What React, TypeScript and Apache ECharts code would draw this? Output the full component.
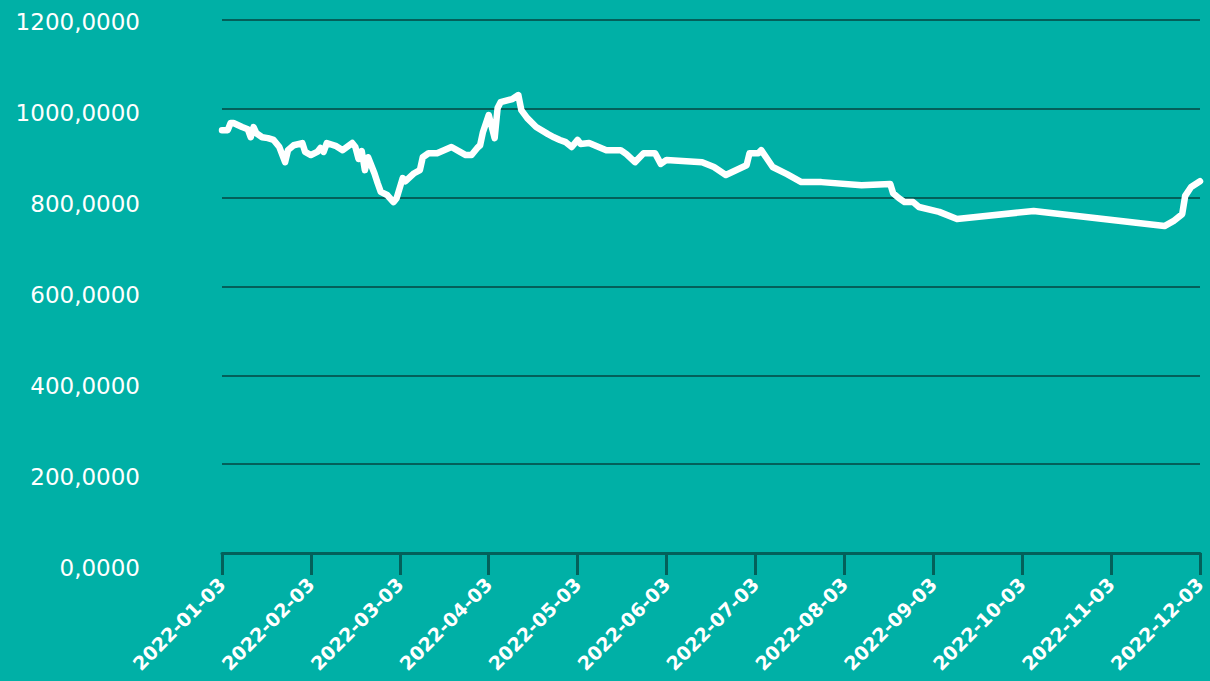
import React, { useEffect, useRef } from "react";
import * as echarts from "echarts";

const dates: string[] = [
  "2022-01-03", "2022-01-05", "2022-01-06", "2022-01-07", "2022-01-10", "2022-01-12", "2022-01-13", "2022-01-14",
  "2022-01-15", "2022-01-17", "2022-01-19", "2022-01-21", "2022-01-23", "2022-01-25", "2022-01-26", "2022-01-28",
  "2022-01-31", "2022-02-01", "2022-02-03", "2022-02-05", "2022-02-06", "2022-02-07", "2022-02-08", "2022-02-11",
  "2022-02-13", "2022-02-16", "2022-02-17", "2022-02-18", "2022-02-19", "2022-02-20", "2022-02-21", "2022-02-23",
  "2022-02-24", "2022-02-25", "2022-02-27", "2022-03-01", "2022-03-02", "2022-03-04", "2022-03-05", "2022-03-08",
  "2022-03-10", "2022-03-11", "2022-03-13", "2022-03-16", "2022-03-21", "2022-03-24", "2022-03-26", "2022-03-28",
  "2022-03-30", "2022-03-31", "2022-04-01", "2022-04-03", "2022-04-05", "2022-04-06", "2022-04-07", "2022-04-11",
  "2022-04-13", "2022-04-14", "2022-04-16", "2022-04-19", "2022-04-23", "2022-04-25", "2022-04-27", "2022-04-29",
  "2022-05-01", "2022-05-03", "2022-05-04", "2022-05-07", "2022-05-13", "2022-05-18", "2022-05-20", "2022-05-23",
  "2022-05-26", "2022-05-30", "2022-06-01", "2022-06-03", "2022-06-15", "2022-06-19", "2022-06-23", "2022-06-30",
  "2022-07-01", "2022-07-04", "2022-07-05", "2022-07-09", "2022-07-14", "2022-07-19", "2022-07-26", "2022-08-09",
  "2022-08-19", "2022-08-20", "2022-08-22", "2022-08-24", "2022-08-27", "2022-08-29", "2022-09-05", "2022-09-11",
  "2022-10-07", "2022-11-21", "2022-11-24", "2022-11-27", "2022-11-28", "2022-11-30", "2022-12-03",
];

const values: number[] = [
  952, 952, 968, 968, 959, 954, 936, 959, 945, 936, 934, 930, 914, 880, 907, 918,
  923, 903, 896, 903, 912, 903, 923, 916, 907, 923, 914, 887, 905, 862, 891, 855,
  833, 813, 806, 790, 799, 844, 837, 855, 862, 891, 900, 900, 914, 903, 896, 896,
  912, 918, 948, 986, 934, 1002, 1015, 1022, 1031, 997, 979, 959, 943, 936, 930, 925,
  914, 930, 921, 923, 907, 907, 898, 880, 900, 900, 876, 885, 880, 869, 851, 873,
  900, 900, 907, 869, 853, 835, 835, 828, 831, 810, 799, 790, 790, 779, 768, 752,
  770, 736, 747, 763, 804, 824, 837,
];

const tickLabels: string[] = [
  "2022-01-03", "2022-02-03", "2022-03-03", "2022-04-03", "2022-05-03", "2022-06-03",
  "2022-07-03", "2022-08-03", "2022-09-03", "2022-10-03", "2022-11-03", "2022-12-03",
];

const monthDays = [31, 28, 31, 30, 31, 30, 31, 31, 30, 31, 30, 31];

// position on an axis where each tick (3rd of each month) is one unit apart
function datePos(d: string): number {
  const [, m, day] = d.split("-").map(Number);
  let mi = m - 1;
  let dd = day - 3;
  if (dd < 0) {
    mi -= 1;
    dd += monthDays[mi];
  }
  return mi + dd / monthDays[mi];
}

const BG = "#00B0A6";
const DARK = "#03605A";

export default function App() {
  const ref = useRef<HTMLDivElement>(null);

  useEffect(() => {
    if (!ref.current) return;
    const chart = echarts.init(ref.current, undefined, { renderer: "svg" });
    const seriesData = dates.map((d, i) => [datePos(d), values[i]]);
    chart.setOption({
      animation: false,
      backgroundColor: BG,
      grid: [
        { left: 222, right: 10, top: 20, bottom: 128 },
        { left: 222, right: 10, top: 22, bottom: 113 },
      ],
      xAxis: [
        {
          type: "value",
          gridIndex: 0,
          min: 0,
          max: tickLabels.length - 1,
          interval: 1,
          splitLine: { show: false },
          axisLine: { show: true, lineStyle: { color: DARK, width: 3 } },
          axisTick: { show: true, length: 22, lineStyle: { color: DARK, width: 3 } },
          axisLabel: {
            rotate: 45,
            margin: 28,
            color: "#ffffff",
            fontWeight: "bold",
            fontSize: 19,
            fontFamily: "DejaVu Sans",
            formatter: (v: number) => tickLabels[Math.round(v)] ?? "",
          },
        },
        { type: "value", gridIndex: 1, show: false, min: 0, max: 1 },
      ],
      yAxis: [
        {
          type: "value",
          gridIndex: 0,
          min: 0,
          max: 1200,
          interval: 200,
          axisLabel: { show: false },
          axisLine: { show: false },
          axisTick: { show: false },
          splitLine: { show: true, lineStyle: { color: DARK, width: 2 } },
        },
        {
          type: "value",
          gridIndex: 1,
          min: 0,
          max: 1200,
          interval: 200,
          axisLine: { show: false },
          axisTick: { show: false },
          splitLine: { show: false },
          axisLabel: {
            margin: 82,
            color: "#ffffff",
            fontSize: 23,
            fontFamily: "DejaVu Sans",
            formatter: (v: number) => v.toFixed(4).replace(".", ","),
          },
        },
      ],
      series: [
        {
          type: "line",
          xAxisIndex: 0,
          yAxisIndex: 0,
          data: seriesData,
          showSymbol: false,
          symbol: "none",
          lineStyle: { color: "#ffffff", width: 6.5, cap: "round", join: "round" },
        },
      ],
    });
    return () => chart.dispose();
  }, []);

  return (
    <div
      ref={ref}
      style={{ position: "fixed", left: 0, top: 0, width: 1210, height: 681, background: BG }}
    />
  );
}
